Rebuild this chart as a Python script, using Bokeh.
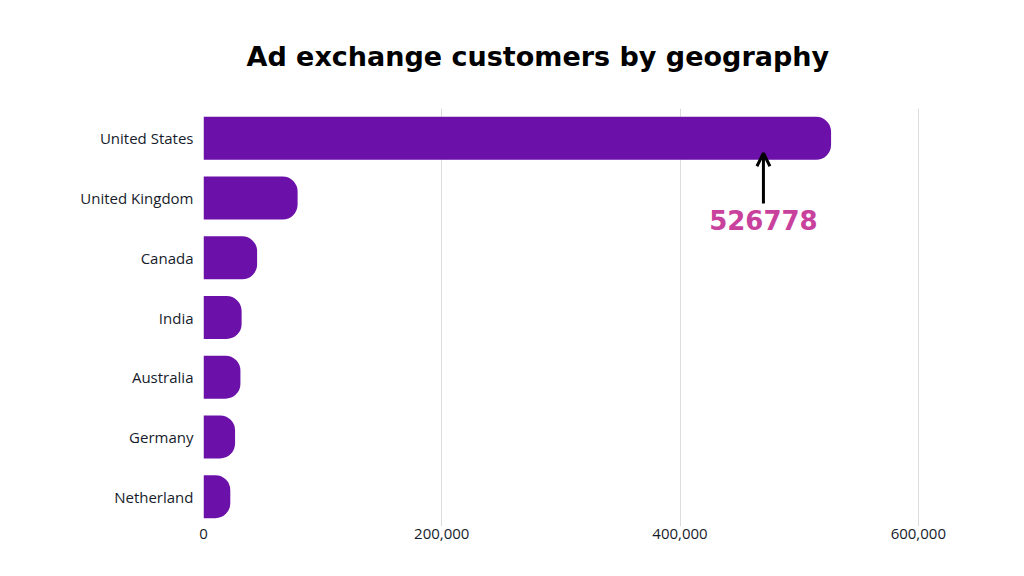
from bokeh.plotting import figure
from bokeh.models import Range1d, FixedTicker, NumeralTickFormatter, Arrow, OpenHead, Label
from bokeh.embed import file_html
from bokeh.resources import INLINE

countries = ["United States", "United Kingdom", "Canada", "India", "Australia", "Germany", "Netherland"]
customers = [526778, 79000, 45000, 32000, 31000, 26500, 22500]
x_ticks = [0, 200000, 400000, 600000]
title_text = "Ad exchange customers by geography"
highlight_label = "526778"
arrow_x = 470000

n = len(countries)
ypos = [n - 1 - i for i in range(n)]

W, H = 1008, 560
p = figure(width=W, height=H, output_backend="svg", toolbar_location=None,
           x_range=Range1d(0, 601000), y_range=Range1d(-0.5, n - 0.5),
           min_border_left=203, min_border_right=89, min_border_top=108, min_border_bottom=34)

p.title.text = title_text
p.title.align = "left"
p.title.offset = 43
p.title.standoff = 74
p.title.text_font = "DejaVu Sans"
p.title.text_font_style = "bold"
p.title.text_font_size = "27px"
p.title.text_color = "#000000"

p.hbar(y=ypos, right=customers, left=0, height=0.72, fill_color="#6c10aa",
       line_color=None, border_radius=(0, 15, 15, 0))

p.outline_line_color = None
p.background_fill_color = "white"
p.ygrid.grid_line_color = None
p.xgrid.grid_line_color = "#dcdcdc"
p.xgrid.grid_line_width = 1
p.xaxis.ticker = FixedTicker(ticks=x_ticks)
p.xaxis.formatter = NumeralTickFormatter(format="0,0")
p.yaxis.ticker = FixedTicker(ticks=ypos)
p.yaxis.major_label_overrides = {ypos[i]: countries[i] for i in range(n)}

for ax in (p.xaxis[0], p.yaxis[0]):
    ax.axis_line_color = None
    ax.major_tick_line_color = None
    ax.minor_tick_line_color = None
    ax.major_tick_out = 0
    ax.major_tick_in = 0
    ax.major_label_text_font = "Open Sans"
    ax.major_label_text_font_size = "15px"
    ax.major_label_text_color = "#161c2b"
p.yaxis.major_label_standoff = 10
p.xaxis.major_label_standoff = 2

top = ypos[0]
p.add_layout(Arrow(end=OpenHead(size=13, line_width=3, line_color="black"),
                   x_start=arrow_x, y_start=top - 1.09, x_end=arrow_x, y_end=top - 0.25,
                   line_width=3, line_color="black"))
p.add_layout(Label(x=arrow_x, y=top - 1.36, text=highlight_label, text_align="center",
                   text_baseline="middle", text_font="DejaVu Sans", text_font_style="bold",
                   text_font_size="26px", text_color="#c8419c"))

open("out.html", "w").write(file_html(p, INLINE))
